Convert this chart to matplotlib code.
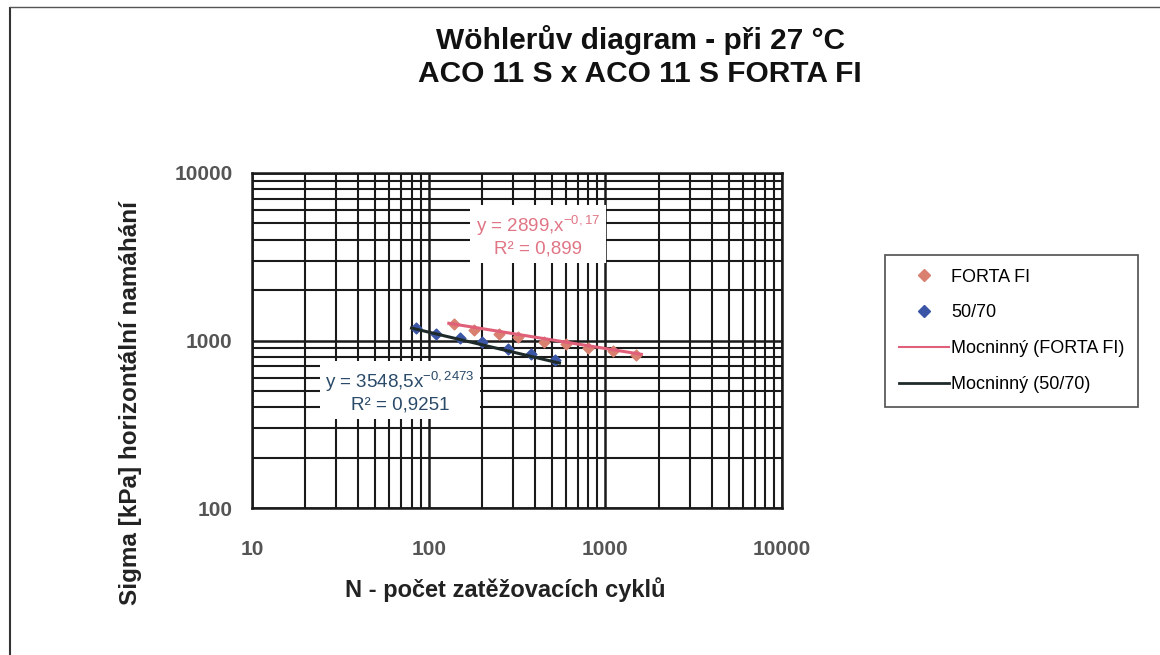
import numpy as np
import matplotlib.pyplot as plt
from matplotlib.lines import Line2D

plt.rcParams['font.family'] = ['Liberation Sans', 'DejaVu Sans']

# data
forta_n = [140, 180, 250, 320, 450, 600, 800, 1100, 1500]
forta_sigma = [1250, 1150, 1100, 1050, 980, 950, 900, 870, 820]
b5070_n = [85, 110, 150, 200, 280, 380, 520]
b5070_sigma = [1180, 1100, 1030, 980, 890, 830, 760]

# power trendlines y = a * x^b
forta_a, forta_b = 2899.0, -0.17
b5070_a, b5070_b = 3548.5, -0.25
forta_range = [130, 1600]
b5070_range = [80, 550]

xticks = [10, 100, 1000, 10000]
yticks = [100, 1000, 10000]

fig = plt.figure(figsize=(11.6, 6.55), dpi=100)
ax = fig.add_axes([252/1160, 1 - 508/655, 530/1160, 335/655])

ax.set_xscale('log')
ax.set_yscale('log')
ax.set_xlim(10, 10000)
ax.set_ylim(100, 10000)

ax.grid(True, which='major', color='#1a1a1a', lw=1.8)
ax.grid(True, which='minor', color='#1a1a1a', lw=1.5)
ax.set_axisbelow(True)

ax.scatter(forta_n, forta_sigma, marker='D', s=30, color='#d98070', zorder=3)
ax.scatter(b5070_n, b5070_sigma, marker='D', s=30, color='#3a55a5', zorder=3)

xf = np.geomspace(*forta_range, 50)
ax.plot(xf, forta_a * xf ** forta_b, color='#e0607a', lw=2.2, zorder=4)
xb = np.geomspace(*b5070_range, 50)
ax.plot(xb, b5070_a * xb ** b5070_b, color='#1e2a2a', lw=2.2, zorder=4)

ax.set_xticks(xticks)
ax.set_xticklabels([str(v) for v in xticks])
ax.set_yticks(yticks)
ax.set_yticklabels([str(v) for v in yticks])
ax.tick_params(which='both', length=0, labelsize=15, colors='#555555')
ax.tick_params(axis='x', pad=23)
ax.tick_params(axis='y', pad=14)
for lab in ax.get_xticklabels() + ax.get_yticklabels():
    lab.set_fontweight('bold')
for s in ax.spines.values():
    s.set_color('#1a1a1a')
    s.set_linewidth(1.8)

box = dict(boxstyle='square,pad=0.3', fc='white', ec='none')
ax.text(538/1160, 1 - 235/655, "y = 2899,x$^{\\mathregular{-0,17}}$\nR² = 0,899",
        transform=fig.transFigure, ha='center', va='center', fontsize=13.5,
        color='#e07585', bbox=box, linespacing=1.2, zorder=5)
ax.text(400/1160, 1 - 391/655, "y = 3548,5x$^{\\mathregular{-0,2473}}$\nR² = 0,9251",
        transform=fig.transFigure, ha='center', va='center', fontsize=13.5,
        color='#2a4a6a', bbox=box, linespacing=1.2, zorder=5)

fig.text(640/1160, 1 - 40/655, "Wöhlerův diagram - při 27 °C", ha='center', va='center',
         fontsize=21.5, fontweight='bold', color='#111111')
fig.text(640/1160, 1 - 74/655, "ACO 11 S x ACO 11 S FORTA FI", ha='center', va='center',
         fontsize=21.5, fontweight='bold', color='#111111')
fig.text(505/1160, 1 - 590/655, "N - počet zatěžovacích cyklů", ha='center', va='center',
         fontsize=17, fontweight='bold', color='#222222')
fig.text(130/1160, 1 - 403/655, "Sigma [kPa] horizontální namáhání", ha='center', va='center',
         rotation=90, fontsize=17.5, fontweight='bold', color='#222222')

handles = [
    Line2D([], [], ls='none', marker='D', ms=6, color='#d98070'),
    Line2D([], [], ls='none', marker='D', ms=6, color='#3a55a5'),
    Line2D([], [], color='#e0607a', lw=1.5),
    Line2D([], [], color='#1e2a2a', lw=2),
]
labels = ['FORTA FI', '50/70', 'Mocninný (FORTA FI)', 'Mocninný (50/70)']
leg = fig.legend(handles, labels, loc='upper left', bbox_to_anchor=(885/1160, 1 - 255/655),
                 frameon=True, fancybox=False, edgecolor='#333333', fontsize=13,
                 handlelength=2.8, handletextpad=0.1, labelspacing=1.05, borderpad=0.75,
                 borderaxespad=0)
leg.get_frame().set_linewidth(1.3)

# page frame of the scanned document
fig.add_artist(Line2D([10/1160, 10/1160], [0, 1 - 8/655], transform=fig.transFigure,
                      color='#333333', lw=1.5))
fig.add_artist(Line2D([10/1160, 1], [1 - 7/655, 1 - 7/655], transform=fig.transFigure,
                      color='#555555', lw=1))

fig.savefig('out.png', dpi=100)
